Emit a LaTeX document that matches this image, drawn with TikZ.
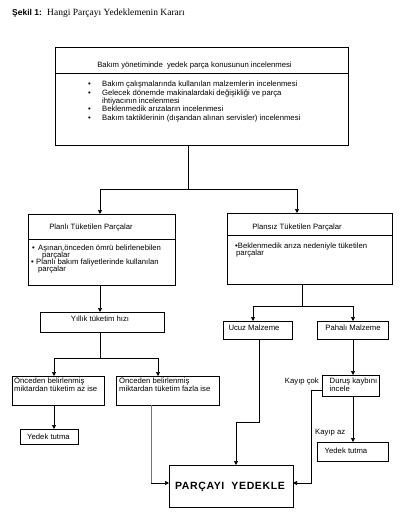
\documentclass[tikz,border=0pt]{standalone}
\usepackage{fontspec}
\setmainfont{Liberation Sans}
\newfontfamily\ttlserif{Liberation Serif}
\usetikzlibrary{arrows.meta}
\newcommand\smallf{\fontsize{7.7}{8}\selectfont}
\tikzset{
  bx/.style={draw, line width=0.7pt, inner sep=0pt, outer sep=0pt},
  tx/.style={font=\smallf, inner sep=0pt, anchor=mid west},
  tc/.style={font=\smallf, inner sep=0pt, anchor=mid},
  ln/.style={line width=0.7pt},
  ar/.style={line width=0.7pt, -{Triangle[width=4pt,length=4pt]}},
}
\begin{document}
\begin{tikzpicture}[x=1pt,y=-1pt]
\useasboundingbox (0,0) rectangle (406,525);
% title
\node[inner sep=0pt, anchor=mid west, font=\fontsize{8.5}{9}\selectfont\bfseries] (cap1) at (12,13) {Şekil 1:};
\node[inner sep=0pt, anchor=mid west, font=\fontsize{9.5}{10}\selectfont\ttlserif] (cap2) at (47,13) {Hangi Parçayı Yedeklemenin Kararı};
% boxes
\node[bx, minimum width=293pt, minimum height=98pt] (top) at (201.5,96) {};
\node[bx, minimum width=147pt, minimum height=71pt] (planli) at (101.5,249.5) {};
\node[bx, minimum width=165pt, minimum height=71pt] (plansiz) at (309.5,248.5) {};
\node[bx, minimum width=124pt, minimum height=20pt] (yillik) at (102,322) {};
\node[bx, minimum width=92pt, minimum height=29pt] (az) at (58,390.5) {};
\node[bx, minimum width=103pt, minimum height=29pt] (fazla) at (167.5,390.5) {};
\node[bx, minimum width=58pt, minimum height=15pt] (yedek1) at (49,436.5) {};
\node[bx, minimum width=124pt, minimum height=42pt] (parc) at (231,486) {};
\node[bx, minimum width=69pt, minimum height=18pt] (ucuz) at (257.5,330) {};
\node[bx, minimum width=71pt, minimum height=18pt] (pahali) at (352.5,330) {};
\node[bx, minimum width=57pt, minimum height=21pt] (durus) at (350.5,385.5) {};
\node[bx, minimum width=71pt, minimum height=19pt] (yedek2) at (352.5,451.5) {};
% dividers
\coordinate (dv1) at (0,73);
\coordinate (dv2) at (0,239);
\coordinate (dv3) at (0,235);
\draw[ln] (top.west |- dv1) -- (top.east |- dv1);
\draw[ln] (planli.west |- dv2) -- (planli.east |- dv2);
\draw[ln] (plansiz.west |- dv3) -- (plansiz.east |- dv3);
% texts top box
\node[tc] (tt) at (194.5,65) {Bakım yönetiminde\ \ yedek parça konusunun incelenmesi};
\node[tx] (b1) at (88,84) {•};
\node[tx] (l1) at (102,84) {Bakım çalışmalarında kullanılan malzemlerin incelenmesi};
\node[tx] (b2) at (88,92.5) {•};
\node[tx] (l2) at (102,92.5) {Gelecek dönemde makinalardaki değişikliği ve parça};
\node[tx] (l3) at (102,100.5) {ihtiyacının incelenmesi};
\node[tx] (b4) at (88,109) {•};
\node[tx] (l4) at (102,109) {Beklenmedik arızaların incelenmesi};
\node[tx] (b5) at (88,117.5) {•};
\node[tx] (l5) at (102,117.5) {Bakım taktiklerinin (dışandan alınan servisler) incelenmesi};
% planli
\node[tc] (pt) at (91,227) {Planlı Tüketilen Parçalar};
\node[tx] (pb1) at (32,248) {•};
\node[tx] (pl1) at (38,248) {Aşınan,önceden ömrü belirlenebilen};
\node[tx] (pl2) at (42,255) {parçalar};
\node[tx] (pb2) at (31,262) {•};
\node[tx] (pl3) at (36,262) {Planlı bakım faliyetlerinde kullanılan};
\node[tx] (pl4) at (38,269) {parçalar};
% plansiz
\node[tc] (st) at (297,227) {Plansız Tüketilen Parçalar};
\node[tx] (sl1) at (235,246) {•Beklenmedik arıza nedeniyle tüketilen};
\node[tx] (sl2) at (236,253) {parçalar};
% others
\node[tc] (yt) at (100,319) {Yıllık tüketim hızı};
\node[tx] (a1) at (14,381) {Önceden belirlenmiş};
\node[tx] (a2) at (14,389) {miktardan tüketim az ise};
\node[tx] (f1) at (119,381) {Önceden belirlenmiş};
\node[tx] (f2) at (119,389) {miktardan tüketim fazla ise};
\node[tc] (y1t) at (48.5,437) {Yedek tutma};
\node[inner sep=0pt, font=\fontsize{10.5}{11}\selectfont\bfseries\addfontfeature{LetterSpace=6}] (pct) at (230,487) {PARÇAYI\ \ YEDEKLE};
\node[tc] (ut) at (254,328) {Ucuz Malzeme};
\node[tc] (ht) at (353,328) {Pahalı Malzeme};
\node[tx] (d1t) at (329.5,381) {Duruş kaybını};
\node[tx] (d2t) at (329.5,389) {incele};
\node[font=\smallf, inner sep=0pt, anchor=mid east] (kc) at (319,381) {Kayıp çok};
\node[tx] (ka) at (315,432) {Kayıp az};
\node[tc] (y2t) at (346,451) {Yedek tutma};
% connectors
\coordinate (j1) at (188,189);
\coordinate (jl) at (100,189);
\coordinate (jr) at (297,189);
\draw[ln] (top.south -| j1) -- (j1);
\draw[ln] (jl) -- (jr);
\draw[ar] (jl) -- (planli.north -| jl);
\draw[ar] (jr) -- (plansiz.north -| jr);
\draw[ar] (planli.south -| jl) -- (yillik.north -| jl);
\coordinate (j2) at (100,358);
\coordinate (ja) at (54,358);
\coordinate (jb) at (158,358);
\draw[ln] (yillik.south -| j2) -- (j2);
\draw[ln] (ja) -- (jb);
\draw[ar] (ja) -- (az.north -| ja);
\draw[ar] (jb) -- (fazla.north -| jb);
\draw[ar] (az.south -| ja) -- (yedek1.north -| ja);
\coordinate (k1) at (151,483);
\draw[ln, black!55] (fazla.south -| k1) -- (k1);
\draw[ar] (k1) -- (parc.west |- k1);
\coordinate (j3) at (302,306);
\coordinate (ju) at (253,306);
\coordinate (jp) at (353,306);
\draw[ln] (plansiz.south -| j3) -- (j3);
\draw[ln] (ju) -- (jp);
\draw[ar] (ju) -- (ucuz.north -| ju);
\draw[ar] (jp) -- (pahali.north -| jp);
\coordinate (u1) at (259,422);
\coordinate (u2) at (236,422);
\draw[ar] (ucuz.south -| u1) -- (u1) -- (u2) -- (parc.north -| u2);
\draw[ar] (pahali.south -| jp) -- (durus.north -| jp);
\draw[ar] (durus.south -| jp) -- (yedek2.north -| jp);
\coordinate (e1) at (311,390);
\coordinate (e2) at (311,483);
\draw[ar] (durus.west |- e1) -- (e1) -- (e2) -- (parc.east |- e2);
\end{tikzpicture}
\end{document}
